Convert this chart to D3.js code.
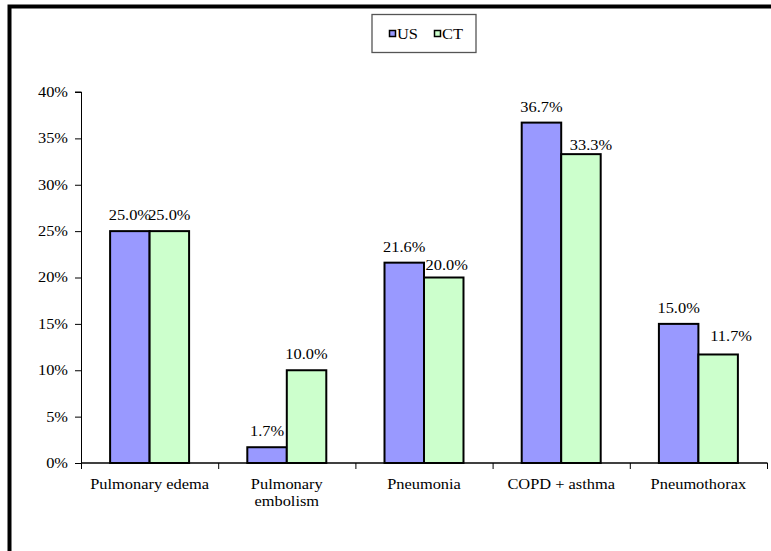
<!DOCTYPE html>
<html>
<head>
<meta charset="utf-8">
<script src="https://cdn.jsdelivr.net/npm/d3@7"></script>
<style>
  body { margin: 0; background: #fff; }
</style>
</head>
<body>
<svg id="chart" width="771" height="551"></svg>
<script>
// chart data
const categories = [["Pulmonary edema"], ["Pulmonary", "embolism"], ["Pneumonia"], ["COPD + asthma"], ["Pneumothorax"]];
const series = ["US", "CT"];
const usValues = [25.0, 1.7, 21.6, 36.7, 15.0];
const ctValues = [25.0, 10.0, 20.0, 33.3, 11.7];
const yTicks = [0, 5, 10, 15, 20, 25, 30, 35, 40];
const colors = ["#9999ff", "#ccffcc"];

// small label nudges (the original moved a few CT labels)
const ctLabelDx = [0, 0, 3, 10, 13];
const ctLabelDy = [0, 0, 3, 7, -2];

const FONT = "'Liberation Serif', 'Times New Roman', 'DejaVu Serif', serif";
const svg = d3.select("#chart").attr("font-family", FONT);
const stretch = 1.17;

// widen text a bit, the original picture is stretched sideways
function widen(sel) {
  sel.style("font-family", FONT).attr("fill", "#000");
  sel.each(function() {
    const w = this.getComputedTextLength();
    d3.select(this).attr("textLength", w * stretch).attr("lengthAdjust", "spacingAndGlyphs");
  });
}

// frame (top + left edges visible)
svg.append("rect")
  .attr("x", 9.5).attr("y", 6.5)
  .attr("width", 800).attr("height", 600)
  .attr("fill", "none").attr("stroke", "#000").attr("stroke-width", 4);

const pLeft = 81, pRight = 767, pTop = 92, pBottom = 463;

const catNames = categories.map(c => c.join(" "));
const x0 = d3.scaleBand().domain(catNames).range([pLeft, pRight]).padding(0);
const x1 = d3.scaleBand().domain(series).range([0, x0.bandwidth()]).paddingInner(0).paddingOuter(0.737);
const y = d3.scaleLinear().domain([0, 40]).range([pBottom, pTop]);

// y axis
const yAxis = svg.append("g")
  .attr("transform", `translate(${pLeft},0)`)
  .call(d3.axisLeft(y).tickValues(yTicks).tickSize(6).tickPadding(7).tickFormat(d => d + "%"));
yAxis.attr("font-family", FONT);
yAxis.select(".domain").attr("stroke", "#000").attr("d", `M-6,${pTop}H0.5V${pBottom}`);
yAxis.selectAll(".tick line").attr("stroke", "#000");
yAxis.selectAll(".tick text").style("font-size", "14px").call(widen);

// bars
const data = catNames.map((c, i) => ({ cat: c, i: i, vals: [usValues[i], ctValues[i]] }));
const groups = svg.append("g").selectAll("g")
  .data(data).join("g")
  .attr("transform", d => `translate(${x0(d.cat)},0)`);

groups.selectAll("rect")
  .data(d => d.vals.map((v, j) => ({ key: series[j], v: v, j: j })))
  .join("rect")
  .attr("x", d => x1(d.key))
  .attr("y", d => y(d.v))
  .attr("width", x1.bandwidth())
  .attr("height", d => pBottom - y(d.v))
  .attr("fill", d => colors[d.j])
  .attr("stroke", "#000")
  .attr("stroke-width", 2);

groups.selectAll("text.lbl")
  .data(d => d.vals.map((v, j) => ({ key: series[j], v: v, j: j, i: d.i })))
  .join("text")
  .attr("class", "lbl")
  .attr("x", d => x1(d.key) + x1.bandwidth() / 2 + (d.j == 1 ? ctLabelDx[d.i] : 0))
  .attr("y", d => y(d.v) - 11 + (d.j == 1 ? ctLabelDy[d.i] : 0))
  .attr("text-anchor", "middle")
  .style("font-size", "14px")
  .text(d => d.v.toFixed(1) + "%")
  .call(widen);

// x axis
const xAxis = svg.append("g").attr("transform", `translate(0,${pBottom})`);
xAxis.append("line")
  .attr("x1", pLeft).attr("x2", pRight + 0.5)
  .attr("stroke", "#000").attr("stroke-width", 1.3);
xAxis.selectAll("line.tk")
  .data(catNames.map(c => x0(c)).concat([pRight]))
  .join("line")
  .attr("class", "tk")
  .attr("x1", d => d + 0.5).attr("x2", d => d + 0.5)
  .attr("y1", 0).attr("y2", 6)
  .attr("stroke", "#000");

categories.forEach((lines, i) => {
  const cx = x0(catNames[i]) + x0.bandwidth() / 2;
  lines.forEach((ln, k) => {
    xAxis.append("text")
      .attr("x", cx).attr("y", 26 + k * 17)
      .attr("text-anchor", "middle")
      .style("font-size", "14px")
      .text(ln)
      .call(widen);
  });
});

// legend
const lg = svg.append("g");
lg.append("rect")
  .attr("x", 372).attr("y", 14.5).attr("width", 104).attr("height", 38)
  .attr("fill", "#fff").attr("stroke", "#555").attr("stroke-width", 1.3);
const items = lg.selectAll("g").data(series).join("g")
  .attr("transform", (d, i) => `translate(${389 + i * 45},0)`);
items.append("rect")
  .attr("x", 0.5).attr("y", 30.5).attr("width", 6).attr("height", 6)
  .attr("fill", (d, i) => colors[i]).attr("stroke", "#000").attr("stroke-width", 1.5);
items.append("text")
  .attr("x", 8).attr("y", 38.5)
  .style("font-size", "14px")
  .text(d => d)
  .call(widen);
</script>
</body>
</html>
